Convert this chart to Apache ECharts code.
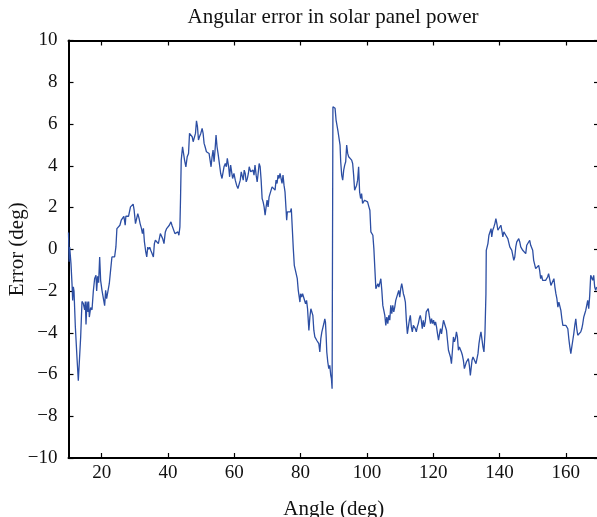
<!DOCTYPE html>
<html>
<head>
<meta charset="utf-8">
<script src="https://cdn.jsdelivr.net/npm/echarts@6/dist/echarts.min.js"></script>
<style>
  html, body { margin: 0; padding: 0; background: #fff; }
  #chart { width: 597px; height: 517px; }
</style>
</head>
<body>
<div id="chart"></div>
<script>
// angle (deg) and error (deg)
const angles = [
  10.0, 10.2, 10.35, 10.75, 11.06, 11.26, 11.46, 11.66, 12.06, 12.56, 12.96, 13.26, 13.67, 14.07, 14.47, 14.87,
  15.08, 15.28, 15.58, 15.88, 16.08, 16.28, 16.68, 17.09, 17.49, 17.89, 18.29, 18.49, 18.79, 19.09, 19.4, 19.7,
  20.1, 20.5, 20.9, 21.2, 21.5, 21.9, 22.3, 22.7, 23.1, 23.5, 23.9, 24.3, 24.6, 25.1, 25.5, 25.9,
  26.3, 26.7, 27.1, 27.3, 27.7, 28.1, 28.4, 28.7, 29.1, 29.5, 29.8, 30.2, 30.5, 30.9, 31.3, 31.6,
  32.0, 32.3, 32.6, 32.9, 33.3, 33.6, 33.9, 34.2, 34.5, 34.8, 35.2, 35.6, 35.9, 36.2, 36.5, 36.8,
  37.1, 37.4, 37.7, 38.0, 38.4, 38.8, 39.2, 39.6, 40.0, 40.4, 40.9, 41.2, 41.6,
  42.1, 42.4, 42.7, 43.0, 43.3, 43.6, 43.8, 44.0, 44.4, 44.7, 45.0, 45.4, 45.8, 46.2, 46.5, 46.85,
  47.3, 47.6, 47.9, 48.3, 48.6, 48.9, 49.2, 49.5, 49.9, 50.3, 50.6, 50.9, 51.2, 51.6, 52.0, 52.4,
  52.7, 53.0, 53.3, 53.6, 53.9, 54.2, 54.5, 54.8, 55.1, 55.5, 55.9, 56.3, 56.6, 56.9, 57.3, 57.6,
  57.9, 58.3, 58.6, 58.9, 59.2, 59.5, 59.9, 60.3, 60.7, 61.1, 61.5, 61.8, 62.1, 62.4, 62.7, 63.0,
  63.3, 63.6, 63.95, 64.25, 64.5, 64.95, 65.35, 65.65, 65.95, 66.25, 66.6, 66.9, 67.2, 67.5, 67.8, 68.1,
  68.4, 68.7, 69.0, 69.3, 69.6, 69.9, 70.2, 70.5, 70.8, 71.1, 71.4, 71.7, 72.0, 72.3, 72.6, 72.9,
  73.2, 73.5, 73.8,
  74.1, 74.4, 74.7, 75.0, 75.3, 75.6, 75.8, 76.0, 76.3, 76.6, 76.9, 77.2, 77.5, 77.8, 78.1, 78.4,
  78.7, 79.0, 79.3, 79.6, 79.8, 80.0, 80.3, 80.6, 80.9, 81.2, 81.5, 81.8, 82.1, 82.5, 82.8, 83.1,
  83.4, 83.7, 84.0, 84.3, 84.6, 84.9, 85.2, 85.5, 85.8, 86.1, 86.4, 86.7, 87.0, 87.3, 87.5, 87.7,
  87.9, 88.2, 88.5, 88.8, 89.1, 89.3, 89.5, 89.65, 89.75, 90.2, 90.4, 90.7, 91.0, 91.3, 91.6, 91.9,
  92.1, 92.4, 92.7, 93.0, 93.3, 93.6, 93.9, 94.2, 94.5, 94.8, 95.1, 95.4, 95.7, 96.0, 96.3, 96.6,
  96.9, 97.2, 97.5, 97.8, 98.1, 98.4, 98.7, 99.0, 99.3, 99.6, 99.9, 100.2, 100.6, 100.9, 101.2, 101.5,
  101.8, 102.1, 102.4, 102.7, 103.0, 103.3, 103.6, 103.9, 104.2, 104.5, 104.8, 105.1, 105.4, 105.7,
  106.0, 106.3, 106.6, 106.9, 107.2, 107.5, 107.8, 108.1, 108.4, 108.7, 109.0, 109.3, 109.6, 109.9, 110.2, 110.5,
  110.7, 111.0, 111.3, 111.6, 111.9, 112.2, 112.5, 112.8, 113.1, 113.4, 113.7, 114.0, 114.3, 114.6, 114.9, 115.2,
  115.5, 115.8, 116.1, 116.4, 116.7, 117.0, 117.3, 117.6, 117.9, 118.2, 118.5, 118.8, 119.2, 119.5, 119.8, 120.1,
  120.4, 120.7, 121.0, 121.3, 121.6, 121.9, 122.2, 122.5, 122.8, 123.1, 123.4, 123.7, 124.0, 124.3, 124.6, 124.9,
  125.2, 125.5, 125.8, 126.1, 126.4, 126.7, 127.0, 127.3, 127.6, 127.9, 128.2, 128.5, 128.8, 129.1, 129.4, 129.7,
  130.0, 130.3, 130.6, 130.9, 131.2, 131.5, 131.7, 132.0, 132.3, 132.6, 132.9, 133.2, 133.5, 133.8, 134.1, 134.4,
  134.7, 135.0, 135.3, 135.6, 135.9, 136.0, 136.2, 136.5, 136.8, 137.1,
  137.45, 137.65, 137.95, 138.3, 138.6, 138.9, 139.2, 139.5, 139.8, 140.1, 140.4, 140.7, 141.0, 141.3, 141.6, 141.9,
  142.2, 142.5, 142.8, 143.1, 143.4, 143.7, 144.0, 144.3, 144.6, 144.9, 145.2, 145.5, 145.8, 146.1, 146.4, 146.7,
  147.0, 147.3, 147.6, 147.9, 148.2, 148.5, 148.8, 149.1, 149.4, 149.7, 150.0, 150.3, 150.6, 150.9, 151.2, 151.5,
  151.8, 152.1, 152.4, 152.7, 153.0, 153.3, 153.6, 153.9, 154.2, 154.5, 154.8, 155.2, 155.5, 155.8, 156.1, 156.4,
  156.7, 157.0, 157.3, 157.6, 157.9, 158.2, 158.5, 158.8, 159.1, 159.4, 159.7, 160.0, 160.3, 160.6, 160.9, 161.2,
  161.5, 161.8, 162.1, 162.4, 162.7, 163.0, 163.3, 163.6, 163.9, 164.2, 164.5, 164.8, 165.1, 165.4, 165.7, 166.0,
  166.3, 166.6, 166.9, 167.2, 167.5, 167.8, 168.1, 168.4, 168.7, 169.0, 169.3
];
const errors = [
  0.8, -0.6, 0.1, -0.7, -1.65, -2.45, -1.8, -2.0, -3.7, -5.2, -6.3, -6.3, -4.2, -2.5, -2.6, -2.9,
  -2.5, -3.6, -2.5, -3.0, -2.5, -3.25, -2.8, -2.9, -2.0, -1.4, -1.25, -2.0, -1.3, -1.6, -0.37, -1.5,
  -1.97, -2.05, -2.7, -1.97, -2.37, -2.37, -1.65, -1.0, -0.37, -0.45, -0.37, 0.11, 0.99, 1.03, 1.15, 1.39,
  1.31, 1.58, 1.15, 1.58, 1.55, 1.58, 1.63, 2.03, 2.1, 2.16, 1.87, 1.23, 1.23, 1.71, 1.47, 1.23,
  1.0, 0.75, 1.0, 0.35, -0.13, -0.37, 0.1, 0.0, 0.1, -0.05, -0.2, -0.37, 0.27, 0.43, 0.35, 0.51,
  0.27, 0.35, 0.75, 0.67, 0.51, 0.27, 0.83, 0.99, 1.07, 1.15, 1.31, 1.15, 1.07,
  0.75, 0.83, 0.67, 0.83, 0.67, 1.07, 2.51, 4.27, 4.91, 4.91, 4.27, 3.95, 4.43, 4.59, 5.55, 5.47,
  5.39, 5.15, 5.23, 5.55, 6.15, 5.87, 5.23, 5.39, 5.55, 5.79, 5.55, 5.07, 4.91, 4.67, 4.75, 4.59,
  4.27, 3.95, 4.43, 4.75, 4.19, 4.75, 5.47, 4.91, 4.59, 4.11, 3.63, 3.39, 3.47, 3.95, 4.11, 3.95,
  4.35, 3.95, 3.47, 4.03, 3.71, 3.39, 3.63, 3.31, 3.07, 2.91, 2.99, 3.31, 3.71, 3.79, 3.31, 3.79,
  3.63, 3.23, 3.39, 3.63, 3.95, 3.71, 3.71, 3.79, 3.55, 4.03, 3.55, 3.23, 3.63, 4.11, 3.95, 3.31,
  2.43, 2.27, 2.03, 1.63, 2.03, 2.35, 2.03, 2.51, 2.51, 2.59, 2.99, 2.91, 3.07, 2.83, 3.31, 3.15,
  3.55, 3.39, 3.63,
  3.71, 3.15, 3.55, 3.07, 2.75, 1.95, 1.39, 1.79, 1.71, 1.87, 1.79, 1.95, 0.99, 0.03, -0.77, -0.69,
  -0.77, -1.41, -1.97, -2.05, -2.53, -2.13, -2.29, -2.13, -2.05, -2.05, -2.61, -2.45, -2.85, -3.89, -3.25, -2.85,
  -2.77, -3.17, -3.89, -4.2, -4.28, -4.37, -4.44, -4.52, -4.92, -4.28, -3.97, -3.97, -3.57, -3.33, -3.49, -4.13,
  -4.92, -5.4, -5.72, -5.56, -6.04, -6.2, -6.68, -6.76, 6.83, 6.83, 6.75, 6.19, 6.11, 5.63, 5.55, 4.99,
  4.19, 3.55, 3.31, 3.79, 4.03, 4.19, 4.99, 4.59, 4.43, 4.35, 4.35, 4.27, 4.11, 3.55, 2.83, 2.91,
  3.07, 3.31, 3.95, 2.75, 2.43, 2.67, 2.19, 2.11, 2.35, 2.27, 2.35, 2.27, 2.03, 1.87, 0.83, 0.75,
  0.67, 0.03, -0.93, -1.89, -1.81, -1.65, -1.81, -1.73, -1.41, -1.97, -2.69, -2.93, -3.17, -3.65,
  -3.25, -3.56, -3.17, -3.4, -2.69, -3.09, -2.69, -3.0, -2.77, -2.45, -2.53, -2.45, -1.97, -2.29, -1.89, -1.65,
  -1.81, -2.13, -2.29, -2.53, -3.4, -4.05, -3.72, -3.4, -3.17, -3.72, -3.96, -3.64, -3.56, -3.8, -3.96, -3.72,
  -3.56, -3.32, -3.17, -3.4, -3.8, -3.4, -3.72, -3.48, -3.0, -2.93, -2.84, -3.17, -3.56, -3.32, -3.56, -3.4,
  -3.64, -3.48, -3.72, -4.05, -4.36, -4.05, -3.8, -4.05, -3.72, -3.4, -3.32, -3.48, -3.88, -4.36, -4.84, -4.92,
  -5.16, -5.48, -4.84, -4.2, -4.44, -4.28, -3.96, -4.2, -4.84, -4.68, -4.68, -4.92, -5.08, -5.32, -5.72, -5.64,
  -5.4, -5.48, -5.24, -5.56, -6.04, -6.12, -5.32, -5.16, -5.08, -5.24, -5.48, -5.56, -5.0, -4.52, -4.2, -3.96,
  -4.05, -4.68, -4.92, -4.05, -2.13, -0.05, 0.03, 0.27, 0.67, 0.75,
  0.99, 0.59, 0.91, 1.07, 1.23, 1.47, 1.23, 0.91, 0.99, 0.83, 1.15, 0.91, 0.59, 0.83, 0.75, 0.67,
  0.59, 0.51, 0.43, 0.11, 0.03, -0.05, -0.29, -0.53, -0.37, 0.11, 0.35, 0.43, 0.51, 0.35, 0.11, 0.03,
  -0.05, 0.03, -0.05, -0.21, 0.19, 0.11, 0.27, 0.43, 0.19, 0.19, -0.05, -0.53, -0.61, -0.93, -0.93, -0.85,
  -0.77, -1.01, -1.41, -1.25, -1.49, -1.49, -1.41, -1.49, -1.41, -1.33, -1.17, -1.49, -1.73, -1.65, -1.73, -1.41,
  -1.81, -2.13, -2.37, -2.77, -2.53, -2.45, -2.93, -3.33, -3.65, -3.65, -3.57, -3.65, -3.57, -3.81, -4.29, -4.68,
  -5.0, -4.68, -4.36, -4.04, -3.65, -3.33, -3.81, -4.12, -4.2, -4.12, -3.96, -3.81, -3.57, -3.25, -3.09, -2.93,
  -2.69, -2.45, -2.85, -2.21, -1.25, -1.17, -1.49, -1.25, -1.81, -1.97, -1.81
];
const xTicks = [20, 40, 60, 80, 100, 120, 140, 160];

const FONT = '"Liberation Serif", "DejaVu Serif", serif';
const chart = echarts.init(document.getElementById('chart'));

const axisLineStyle = { color: '#000', width: 2 };
const tickStyle = { show: true, inside: true, length: 5, lineStyle: { color: '#000', width: 1.2 } };
const minus = v => String(v).replace('-', '\u2212');

chart.setOption({
  animation: false,
  backgroundColor: '#fff',
  title: {
    text: 'Angular error in solar panel power',
    left: 328,
    top: 2,
    textAlign: 'center',
    textStyle: { fontFamily: FONT, fontSize: 21, fontWeight: 'normal', color: '#111' }
  },
  grid: { left: 68.5, top: 40.5, right: -2, bottom: 59, containLabel: false, outerBoundsMode: 'none' },
  xAxis: [{
    type: 'value', min: 10, max: 170,
    name: 'Angle (deg)', nameLocation: 'middle', nameGap: 41,
    nameTextStyle: { fontFamily: FONT, fontSize: 21, color: '#111' },
    axisLine: { show: true, onZero: false, lineStyle: axisLineStyle },
    axisTick: Object.assign({ customValues: xTicks }, tickStyle),
    axisLabel: { customValues: xTicks, margin: 6, fontFamily: FONT, fontSize: 19, color: '#111' },
    splitLine: { show: false }
  }, {
    type: 'value', min: 10, max: 170, position: 'top',
    axisLine: { show: true, onZero: false, lineStyle: axisLineStyle },
    axisTick: Object.assign({ customValues: xTicks }, tickStyle),
    axisLabel: { show: false },
    splitLine: { show: false }
  }],
  yAxis: [{
    type: 'value', min: -10, max: 10, interval: 2,
    name: 'Error (deg)', nameLocation: 'middle', nameGap: 41, nameRotate: 90, nameMoveOverlap: false,
    nameTextStyle: { fontFamily: FONT, fontSize: 21, color: '#111' },
    axisLine: { show: true, onZero: false, lineStyle: axisLineStyle },
    axisTick: tickStyle,
    axisLabel: { margin: 11, fontFamily: FONT, fontSize: 19, color: '#111', formatter: minus },
    splitLine: { show: false }
  }, {
    type: 'value', min: -10, max: 10, interval: 2, position: 'right',
    axisLine: { show: true, onZero: false, lineStyle: axisLineStyle },
    axisTick: tickStyle,
    axisLabel: { show: false },
    splitLine: { show: false }
  }],
  series: [{
    type: 'line',
    data: angles.map((a, i) => [a, errors[i]]),
    showSymbol: false,
    lineStyle: { color: '#2c4ea3', width: 1.3 },
    itemStyle: { color: '#2c4ea3' }
  }]
});
</script>
</body>
</html>
